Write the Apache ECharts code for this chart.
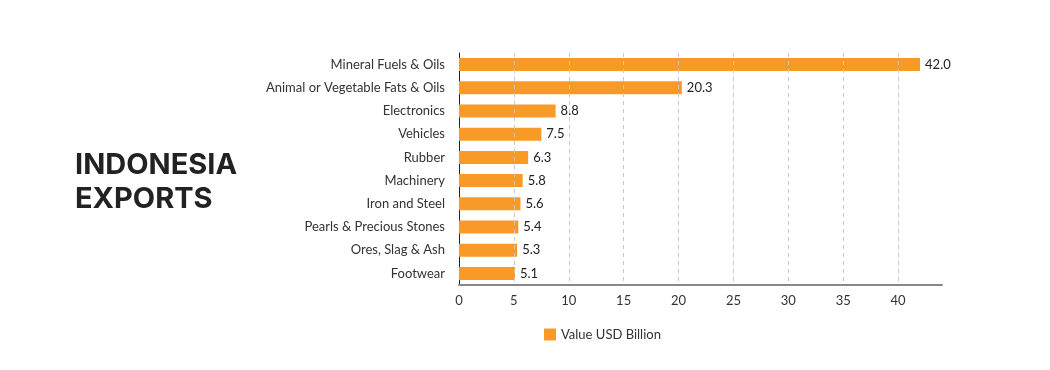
<!DOCTYPE html>
<html>
<head>
<meta charset="utf-8">
<script src="https://cdn.jsdelivr.net/npm/echarts@6/dist/echarts.min.js"></script>
<style>
html,body{margin:0;padding:0;background:#fff;}
#chart{width:1050px;height:370px;}
</style>
</head>
<body>
<div id="chart"></div>
<script>
const categories = ["Mineral Fuels & Oils", "Animal or Vegetable Fats & Oils", "Electronics", "Vehicles", "Rubber", "Machinery", "Iron and Steel", "Pearls & Precious Stones", "Ores, Slag & Ash", "Footwear"];
const values = [42.0, 20.3, 8.8, 7.5, 6.3, 5.8, 5.6, 5.4, 5.3, 5.1];
const seriesName = "Value USD Billion";
const titleText = "INDONESIA\nEXPORTS";
const gridTicks = [5, 10, 15, 20, 25, 30, 35, 40];

const chart = echarts.init(document.getElementById('chart'), null, {renderer: 'canvas'});
chart.setOption({
  animation: false,
  textStyle: {fontFamily: 'Lato'},
  title: {
    text: titleText,
    left: 70, top: 143,
    textStyle: {fontFamily: 'Inter', fontWeight: 700, fontSize: 29, lineHeight: 34, color: '#222'}
  },
  legend: {
    left: 539, top: 323,
    itemWidth: 12, itemHeight: 12,
    icon: 'rect',
    textStyle: {fontFamily: 'Lato', fontSize: 13, color: '#333'},
    data: [seriesName]
  },
  grid: {left: 459, right: 108, top: 53, bottom: 85},
  xAxis: {
    type: 'value', min: 0, max: 44, interval: 5,
    axisLine: {show: true, lineStyle: {color: '#888', width: 2}},
    axisTick: {show: false},
    axisLabel: {showMaxLabel: false, color: '#333', fontSize: 13, fontFamily: 'Lato', margin: 9},
    splitLine: {show: false}
  },
  yAxis: {
    type: 'category', inverse: true, data: categories,
    axisLine: {show: true, lineStyle: {color: '#222', width: 1}},
    axisTick: {show: false},
    axisLabel: {color: '#333', fontSize: 13, fontFamily: 'Lato', margin: 14}
  },
  series: [{
    name: seriesName, type: 'bar', data: values, barWidth: 13,
    itemStyle: {color: '#F99A28'},
    label: {show: true, position: 'right', distance: 5, color: '#222', fontSize: 13, fontFamily: 'Lato',
      formatter: p => p.value.toFixed(1)},
    markLine: {
      silent: true, symbol: 'none', label: {show: false},
      lineStyle: {color: '#c8c8c8', type: [4, 4], width: 1},
      data: gridTicks.map(v => ({xAxis: v}))
    },
    z: 3
  }]
});
</script>
</body>
</html>
